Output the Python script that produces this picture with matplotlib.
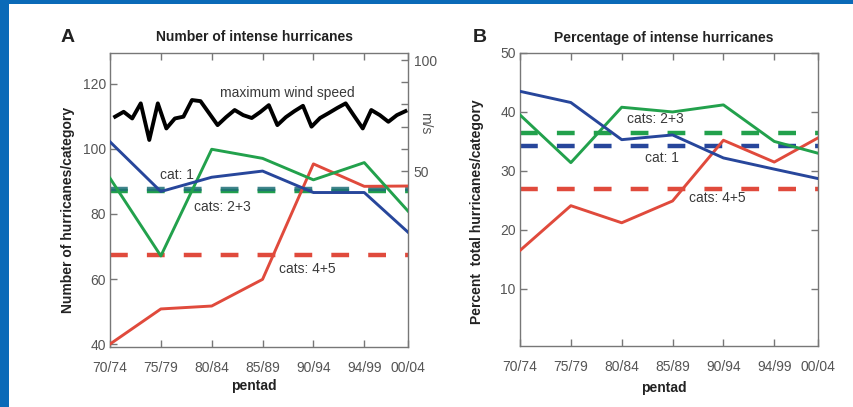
import matplotlib
matplotlib.use("Agg")
import matplotlib.pyplot as plt
from matplotlib.patches import Rectangle

plt.rcParams['font.family'] = ['Liberation Sans', 'DejaVu Sans']

# ---------------- data ----------------
pentads = ["70/74", "75/79", "80/84", "85/89", "90/94", "94/99", "00/04"]

# Panel A: number of hurricanes per category
num_cat1 = [102.2, 86.9, 91.3, 93.2, 86.6, 86.6, 74.4]
num_cat23 = [91.0, 67.1, 99.9, 97.1, 90.5, 95.8, 80.9]
num_cat45 = [40.0, 50.8, 51.7, 59.9, 95.4, 88.5, 88.6]
num_mean_cat1 = 87.6
num_mean_cat23 = 87.1
num_mean_cat45 = 67.3

# Maximum wind speed (m/s), yearly 1970-2004
wind_years = list(range(1970, 2005))
wind_speed = [74.5, 76.7, 73.7, 80.5, 64.0, 80.5, 69.2, 73.7, 74.5, 82.0,
              81.5, 76.1, 70.7, 74.3, 77.5, 75.2, 73.9, 76.6, 79.7, 70.7,
              74.3, 77.0, 79.4, 70.0, 73.9, 76.1, 78.4, 80.5, 74.8, 69.2,
              77.5, 75.2, 72.2, 75.2, 77.0]

# Panel B: percentage of total hurricanes per category
pct_cat1 = [43.5, 41.6, 35.3, 36.1, 32.2, 30.3, 28.7]
pct_cat23 = [39.5, 31.4, 40.8, 40.0, 41.2, 35.0, 33.0]
pct_cat45 = [16.5, 24.1, 21.2, 24.9, 35.2, 31.5, 35.6]
pct_mean_cat1 = 34.3
pct_mean_cat23 = 36.4
pct_mean_cat45 = 27.0

# ---------------- style ----------------
BLUE = "#27469b"
GREEN = "#22a14c"
RED = "#e04a3c"
TXT = "#3a3a3a"
x_pos = [0, 1, 2, 3, 4, 5, 5.86]
LW = 2.1
DLW = 3.2
DASH = (4.0, 4.3)

fig = plt.figure(figsize=(8.54, 4.07), dpi=100)
fig.patch.set_facecolor("white")
# blue frame (top and left bands)
fig.add_artist(Rectangle((0, 1 - 4 / 407), 1, 4 / 407, transform=fig.transFigure,
                         facecolor="#0a6ab8", edgecolor="none"))
fig.add_artist(Rectangle((0, 0), 9 / 854, 1, transform=fig.transFigure,
                         facecolor="#0a6ab8", edgecolor="none"))

posA = [110 / 854, (407 - 347) / 407, 298 / 854, 294 / 407]
posB = [520 / 854, (407 - 346) / 407, 298 / 854, 293 / 407]
axA = fig.add_axes(posA)
axB = fig.add_axes(posB)


def style_axis(ax):
    for s in ax.spines.values():
        s.set_color("#777777")
        s.set_linewidth(1.0)
    ax.set_xticks(x_pos)
    ax.set_xticklabels(pentads)
    ax.tick_params(axis="both", direction="in", length=5, width=1, color="#777777",
                   labelsize=10, labelcolor="#555555", top=True)
    ax.tick_params(axis="x", pad=10)
    ax.set_xlim(x_pos[0], x_pos[-1])


# ---------------- Panel A ----------------
style_axis(axA)
axA.set_ylim(39.1, 129.5)
axA.set_yticks([40, 60, 80, 100, 120])
axA.tick_params(axis="y", right=False, pad=3)
axA.plot(x_pos, num_cat45, color=RED, lw=LW, zorder=3)
axA.plot(x_pos, num_cat23, color=GREEN, lw=LW, zorder=3)
axA.plot(x_pos, num_cat1, color=BLUE, lw=LW, zorder=3)
axA.axhline(num_mean_cat45, color=RED, lw=DLW, dashes=DASH, zorder=2)
axA.axhline(num_mean_cat23, color=GREEN, lw=DLW, dashes=DASH, zorder=2)
axA.axhline(num_mean_cat1, color="#1f6f78", lw=DLW, dashes=DASH, zorder=2, alpha=0.85)

# wind speed on its own overlaid axes (right scale in m/s)
axW = fig.add_axes(posA)
axW.patch.set_visible(False)
for s in axW.spines.values():
    s.set_visible(False)
axW.set_ylim(-29.3, 103.2)
axW.set_xlim(1969.4, 2004.3)
axW.xaxis.set_visible(False)
axW.yaxis.tick_right()
axW.plot(wind_years, wind_speed, color="black", lw=2.8, zorder=4)
axW.set_yticks([50, 60, 70, 80, 90, 100])
axW.set_yticklabels(["50", "", "", "", "", "100"])
axW.tick_params(axis="y", direction="in", length=5, width=1, color="#777777",
                labelsize=10, labelcolor="#555555", pad=4, left=False, right=True)
fig.text(425 / 854, 1 - 123 / 407, "m/s", rotation=-90, ha="center", va="center",
         fontsize=10, color="#555555")

fig.text(287 / 854, 1 - 93 / 407, "maximum wind speed", fontsize=10, color=TXT,
         ha="center", va="center")
fig.text(177 / 854, 1 - 175 / 407, "cat: 1", fontsize=10, color=TXT, ha="center", va="center")
fig.text(222 / 854, 1 - 207 / 407, "cats: 2+3", fontsize=10, color=TXT, ha="center", va="center")
fig.text(307 / 854, 1 - 269 / 407, "cats: 4+5", fontsize=10, color=TXT, ha="center", va="center")

fig.text(255 / 854, 1 - 37 / 407, "Number of intense hurricanes", fontsize=10,
         fontweight="bold", color="#222222", ha="center", va="center")
fig.text(68 / 854, 1 - 38 / 407, "A", fontsize=14, fontweight="bold", color="#222222",
         ha="center", va="center")
fig.text(68 / 854, 1 - 210 / 407, "Number of hurricanes/category", rotation=90,
         fontsize=10, fontweight="bold", color="#222222", ha="center", va="center")
fig.text(254 / 854, 1 - 386 / 407, "pentad", fontsize=10, fontweight="bold",
         color="#222222", ha="center", va="center")

# ---------------- Panel B ----------------
style_axis(axB)
axB.set_ylim(0.3, 50)
axB.set_yticks([10, 20, 30, 40, 50])
axB.tick_params(axis="y", right=True, pad=3)
axB.plot(x_pos, pct_cat45, color=RED, lw=LW, zorder=3)
axB.plot(x_pos, pct_cat23, color=GREEN, lw=LW, zorder=3)
axB.plot(x_pos, pct_cat1, color=BLUE, lw=LW, zorder=3)
axB.axhline(pct_mean_cat45, color=RED, lw=DLW, dashes=DASH, zorder=2)
axB.axhline(pct_mean_cat23, color=GREEN, lw=DLW, dashes=DASH, zorder=2)
axB.axhline(pct_mean_cat1, color=BLUE, lw=DLW, dashes=DASH, zorder=2)

fig.text(655 / 854, 1 - 119 / 407, "cats: 2+3", fontsize=10, color=TXT, ha="center", va="center")
fig.text(662 / 854, 1 - 158 / 407, "cat: 1", fontsize=10, color=TXT, ha="center", va="center")
fig.text(717 / 854, 1 - 198 / 407, "cats: 4+5", fontsize=10, color=TXT, ha="center", va="center")

fig.text(664 / 854, 1 - 38 / 407, "Percentage of intense hurricanes", fontsize=10,
         fontweight="bold", color="#222222", ha="center", va="center")
fig.text(480 / 854, 1 - 38 / 407, "B", fontsize=14, fontweight="bold", color="#222222",
         ha="center", va="center")
fig.text(477 / 854, 1 - 212 / 407, "Percent  total hurricanes/category", rotation=90,
         fontsize=10, fontweight="bold", color="#222222", ha="center", va="center")
fig.text(664 / 854, 1 - 388 / 407, "pentad", fontsize=10, fontweight="bold",
         color="#222222", ha="center", va="center")

fig.savefig("out.png", dpi=100)
